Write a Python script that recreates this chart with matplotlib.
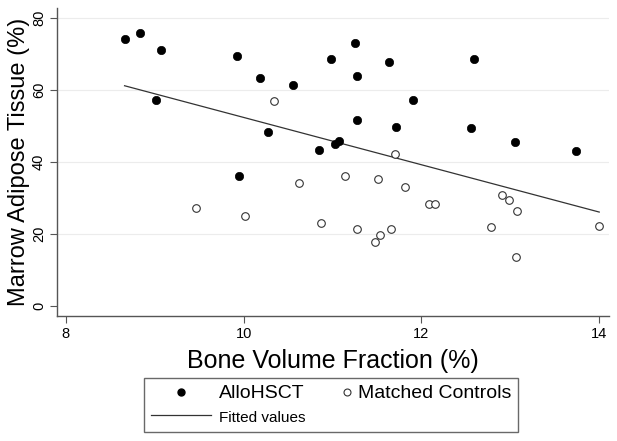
import numpy as np
import matplotlib
matplotlib.use("Agg")
import matplotlib.pyplot as plt
from matplotlib.lines import Line2D
from matplotlib.legend_handler import HandlerLine2D

# --- données ---
allo_bvf = [8.66, 8.83, 9.07, 9.01, 9.93, 10.18, 10.56, 10.27, 9.95, 10.85,
            11.25, 10.98, 11.64, 11.28, 12.59, 11.91, 11.28, 11.71, 12.56,
            11.03, 11.07, 13.05, 13.74]
allo_mat = [74.2, 75.9, 71.2, 57.3, 69.5, 63.4, 61.4, 48.4, 36.2, 43.4,
            73.0, 68.5, 67.8, 63.9, 68.5, 57.3, 51.8, 49.7, 49.5,
            45.1, 45.9, 45.6, 43.2]

ctrl_bvf = [10.34, 10.62, 9.46, 10.01, 10.87, 11.70, 11.14, 11.51, 11.81,
            12.09, 12.15, 12.91, 12.98, 13.07, 11.28, 11.66, 11.53, 11.48,
            12.78, 14.00, 13.06]
ctrl_mat = [56.9, 34.2, 27.2, 25.0, 23.0, 42.1, 36.0, 35.4, 33.1,
            28.4, 28.4, 30.8, 29.4, 26.4, 21.4, 21.4, 19.6, 17.7,
            21.9, 22.3, 13.5]

fit_x = [8.66, 14.0]
fit_y = [61.2, 26.1]

xticks = [8, 10, 12, 14]
yticks = [0, 20, 40, 60, 80]


# marqueur collé à droite de la zone de symbole (comme dans la légende Stata)
class MarkerRight(HandlerLine2D):
    def create_artists(self, legend, orig_handle, xdescent, ydescent,
                       width, height, fontsize, trans):
        arts = super().create_artists(legend, orig_handle, xdescent, ydescent,
                                      width, height, fontsize, trans)
        for a in arts:
            a.set_xdata(np.full(len(a.get_xdata()), width - xdescent - 2.5))
        return arts


plt.rcParams['font.family'] = ['Liberation Sans', 'DejaVu Sans']

W, H = 617, 441
fig = plt.figure(figsize=(W / 100, H / 100), dpi=100)
ax = fig.add_axes([57 / W, 1 - 316 / H, (609 - 57) / W, (316 - 8) / H])

for y in yticks[1:]:
    ax.axhline(y, color="#ececec", lw=0.8, zorder=0)

ax.scatter(allo_bvf, allo_mat, s=36, c="black", edgecolors="black",
           linewidths=0.5, zorder=3)
ax.scatter(ctrl_bvf, ctrl_mat, s=30, facecolors="white", edgecolors="#333333",
           linewidths=0.8, zorder=3)
ax.plot(fit_x, fit_y, color="#333333", lw=0.9, zorder=2)

ax.set_xlim(7.90, 14.11)
ax.set_ylim(-2.78, 82.8)
ax.set_xticks(xticks)
ax.set_yticks(yticks)
ax.set_yticklabels([str(v) for v in yticks], rotation=90, va="center")

for s in ["top", "right"]:
    ax.spines[s].set_visible(False)
for s in ["left", "bottom"]:
    ax.spines[s].set_color("#555555")
    ax.spines[s].set_linewidth(1.0)
ax.tick_params(axis="both", direction="out", length=5, width=0.8,
               color="#555555", labelsize=10.5, pad=3)

ax.set_xlabel("Bone Volume Fraction (%)", fontsize=18, labelpad=6)
ax.set_ylabel("Marrow Adipose Tissue (%)", fontsize=17, labelpad=1)

h_allo = Line2D([], [], ls="none", marker="o", ms=5, color="black")
h_ctrl = Line2D([], [], ls="none", marker="o", ms=5, mfc="white",
                mec="#333333", mew=0.8)
h_fit = Line2D([], [], color="#333333", lw=0.9)
leg = fig.legend([h_allo, h_fit, h_ctrl],
                 ["AlloHSCT", "Fitted values", "Matched Controls"],
                 ncol=2, loc="upper left", bbox_to_anchor=(144 / W, 1 - 378 / H),
                 frameon=True, fancybox=False, edgecolor="#444444",
                 fontsize=14, handlelength=3.1, handletextpad=0.4,
                 columnspacing=-0.8, labelspacing=0.3, borderpad=0.35,
                 borderaxespad=0, handler_map={h_ctrl: MarkerRight()})
leg.get_frame().set_linewidth(1.0)
leg.get_texts()[1].set_fontsize(11)

fig.savefig("out.png", dpi=100)
